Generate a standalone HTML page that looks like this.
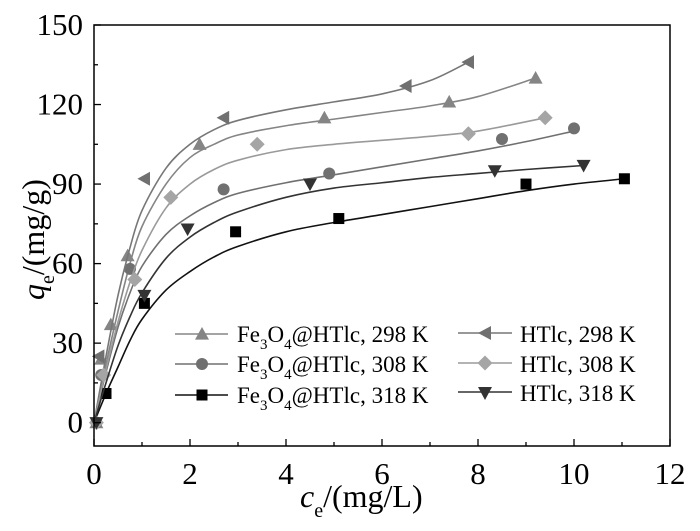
<!DOCTYPE html>
<html><head><meta charset="utf-8"><style>
html,body{margin:0;padding:0;background:#fff;}
svg{display:block;font-family:"Liberation Serif",serif;}
</style></head><body>
<svg id="chart" width="700" height="531" viewBox="0 0 700 531"></svg>
<script>
const xTicks=[0,2,4,6,8,10,12];
const yTicks=[0,30,60,90,120,150];
const seriesNames=["Fe3O4@HTlc, 298 K","Fe3O4@HTlc, 308 K","Fe3O4@HTlc, 318 K","HTlc, 298 K","HTlc, 308 K","HTlc, 318 K"];
const fe298X=[0.05,0.15,0.35,0.7,2.2,4.8,7.4,9.2];
const fe298Y=[0,24,37,63,105,115,121,130];
const fe308X=[0.05,0.15,0.75,2.7,4.9,8.5,10];
const fe308Y=[0,18,58,88,94,107,111];
const fe318X=[0.25,1.05,2.95,5.1,9,11.05];
const fe318Y=[11,45,72,77,90,92];
const ht298X=[0.1,1.05,2.7,6.5,7.8];
const ht298Y=[25,92,115,127,136];
const ht308X=[0.05,0.2,0.85,1.6,3.4,7.8,9.4];
const ht308Y=[0,18,54,85,105,109,115];
const ht318X=[0.05,1.05,1.95,4.5,8.35,10.2];
const ht318Y=[0,48,73,90,95,97];
// fitted curves
const fitFe298X=[0,0.25,0.5,0.75,1,1.5,2,2.5,3,4,5,6,7,8,9.2];
const fitFe298Y=[0,22,42,60,74,90,100,105,108.5,112,114.5,117,119.5,123,130];
const fitHt298X=[0,0.25,0.5,0.75,1,1.5,2,2.5,3,4,5,6,7,7.8];
const fitHt298Y=[0,25,48,66,80,96,105,110.5,114,118,121,124,129,136];
const fitHt308X=[0,0.25,0.5,0.75,1,1.5,2,2.5,3,4,5,6,7,8,9.4];
const fitHt308Y=[0,20,38,53,65,81,90,95.5,99,103,105,106.5,108,110,115];
const fitFe308X=[0,0.25,0.5,0.75,1,1.5,2,2.5,3,4,5,6,7,8,9,10];
const fitFe308Y=[0,19,36,49,59,71,78,83,86.5,90.5,93.5,96.5,99.5,102.5,106,110];
const fitHt318X=[0,0.25,0.5,0.75,1,1.5,2,2.5,3,4,5,6,7,8,9,10.2];
const fitHt318Y=[0,15,29,40,49,62,70,75.5,79.5,85,88.5,90.5,92.5,94,95.5,97];
const fitFe318X=[0,0.25,0.5,0.75,1,1.5,2,2.5,3,4,5,6,7,8,9,10,11.05];
const fitFe318Y=[0,11,21,31,39,50,57,62.5,66.5,72,75.5,78.5,81.5,84.5,87.5,90,92];

const L=94,R=670,T=25,B=446,XMIN=0,XMAX=12,YMIN=-8.8,YMAX=150;
const sx=v=>L+(v-XMIN)/(XMAX-XMIN)*(R-L);
const sy=v=>B-(v-YMIN)/(YMAX-YMIN)*(B-T);
const NS="http://www.w3.org/2000/svg";
const svg=document.getElementById('chart');
function mk(tag,attrs,parent){const e=document.createElementNS(NS,tag);for(const k in attrs)e.setAttribute(k,attrs[k]);(parent||svg).appendChild(e);return e;}

function smoothPath(xs,ys){
  const p=xs.map((x,i)=>[sx(x),sy(ys[i])]);
  let d="M"+p[0][0]+","+p[0][1];
  for(let i=0;i<p.length-1;i++){
    const p0=p[i-1]||p[i],p1=p[i],p2=p[i+1],p3=p[i+2]||p2;
    const c1=[p1[0]+(p2[0]-p0[0])/6,p1[1]+(p2[1]-p0[1])/6];
    const c2=[p2[0]-(p3[0]-p1[0])/6,p2[1]-(p3[1]-p1[1])/6];
    d+=` C${c1[0]},${c1[1]} ${c2[0]},${c2[1]} ${p2[0]},${p2[1]}`;
  }
  return d;
}
function marker(type,cx,cy,color,parent){
  const s=7;let e;
  if(type==="up")e=mk('polygon',{points:`${cx},${cy-s} ${cx-s},${cy+s*0.8} ${cx+s},${cy+s*0.8}`,fill:color},parent);
  else if(type==="down")e=mk('polygon',{points:`${cx},${cy+s} ${cx-s},${cy-s*0.8} ${cx+s},${cy-s*0.8}`,fill:color},parent);
  else if(type==="left")e=mk('polygon',{points:`${cx-s},${cy} ${cx+s*0.8},${cy-s} ${cx+s*0.8},${cy+s}`,fill:color},parent);
  else if(type==="circle")e=mk('circle',{cx:cx,cy:cy,r:6,fill:color},parent);
  else if(type==="square")e=mk('rect',{x:cx-5.5,y:cy-5.5,width:11,height:11,fill:color},parent);
  else e=mk('polygon',{points:`${cx},${cy-7.5} ${cx+7.5},${cy} ${cx},${cy+7.5} ${cx-7.5},${cy}`,fill:color},parent);
  return e;
}
const series=[
 {n:0,x:fe298X,y:fe298Y,fx:fitFe298X,fy:fitFe298Y,m:"up",c:"#858585",lc:"#858585"},
 {n:1,x:fe308X,y:fe308Y,fx:fitFe308X,fy:fitFe308Y,m:"circle",c:"#707070",lc:"#707070"},
 {n:2,x:fe318X,y:fe318Y,fx:fitFe318X,fy:fitFe318Y,m:"square",c:"#000",lc:"#111"},
 {n:3,x:ht298X,y:ht298Y,fx:fitHt298X,fy:fitHt298Y,m:"left",c:"#707070",lc:"#777"},
 {n:4,x:ht308X,y:ht308Y,fx:fitHt308X,fy:fitHt308Y,m:"diamond",c:"#a5a5a5",lc:"#9a9a9a"},
 {n:5,x:ht318X,y:ht318Y,fx:fitHt318X,fy:fitHt318Y,m:"down",c:"#333",lc:"#333"}
];
series.forEach(s=>{
  const g=mk('g',{});
  
  
  const p=mk('path',{d:smoothPath(s.fx,s.fy),fill:'none',stroke:s.lc,'stroke-width':1.6},g);
  
  
  s.x.forEach((x,i)=>{
    const e=marker(s.m,sx(x),sy(s.y[i]),s.c,g);
    
    
  });
});
const fr=mk('rect',{x:L,y:T,width:R-L,height:B-T,fill:'none',stroke:'#000','stroke-width':1.5});


for(let v=0;v<=12;v+=1){
  const x=sx(v),len=(v%2===0)?7:4;
  const t=mk('line',{x1:x,x2:x,y1:B,y2:B-len,stroke:'#000','stroke-width':1.3});
  
  
}
xTicks.forEach(v=>{
  const t=mk('text',{x:sx(v),y:B+38,'font-size':31,'text-anchor':'middle'});
  t.textContent=v;
  
  
});
for(let v=0;v<=150;v+=15){
  const y=sy(v),len=(v%30===0)?7:4;
  const t=mk('line',{x1:L,x2:L+len,y1:y,y2:y,stroke:'#000','stroke-width':1.3});
  
  
}
yTicks.forEach(v=>{
  const t=mk('text',{x:L-11,y:sy(v)+10,'font-size':31,'text-anchor':'end'});
  t.textContent=v;
  
  
});
</script>
<svg style="position:absolute;left:0;top:0" width="700" height="531">
 <text x="300" y="507" font-size="32" font-family="Liberation Serif,serif"><tspan font-style="italic">c</tspan><tspan font-size="20" dy="10">e</tspan><tspan dy="-10">/(mg/L)</tspan></text>
 <text transform="translate(44,300) rotate(-90)" font-size="32" font-family="Liberation Serif,serif"><tspan font-style="italic">q</tspan><tspan font-size="20" dy="10">e</tspan><tspan dy="-10">/(mg/g)</tspan></text>
 <g font-family="Liberation Serif,serif" font-size="23">
  <g>
   <line x1="175" x2="228" y1="334" y2="334" stroke="#858585" stroke-width="1.6"/>
   <polygon points="202,327 195,339.6 209,339.6" fill="#858585"/>
   <text x="237" y="342">Fe<tspan font-size="15" dy="7">3</tspan><tspan dy="-7">O</tspan><tspan font-size="15" dy="7">4</tspan><tspan dy="-7">@HTlc, 298 K</tspan></text>
  </g>
  <g>
   <line x1="175" x2="228" y1="364" y2="364" stroke="#707070" stroke-width="1.6"/>
   <circle cx="202" cy="364" r="6" fill="#707070"/>
   <text x="237" y="372">Fe<tspan font-size="15" dy="7">3</tspan><tspan dy="-7">O</tspan><tspan font-size="15" dy="7">4</tspan><tspan dy="-7">@HTlc, 308 K</tspan></text>
  </g>
  <g>
   <line x1="175" x2="228" y1="395" y2="395" stroke="#111" stroke-width="1.6"/>
   <rect x="196.5" y="389.5" width="11" height="11" fill="#000"/>
   <text x="237" y="403">Fe<tspan font-size="15" dy="7">3</tspan><tspan dy="-7">O</tspan><tspan font-size="15" dy="7">4</tspan><tspan dy="-7">@HTlc, 318 K</tspan></text>
  </g>
  <g>
   <line x1="458" x2="512" y1="333" y2="333" stroke="#777" stroke-width="1.6"/>
   <polygon points="478,333 491,326 491,340" fill="#707070"/>
   <text x="520" y="342">HTlc, 298 K</text>
  </g>
  <g>
   <line x1="458" x2="512" y1="363" y2="363" stroke="#9a9a9a" stroke-width="1.6"/>
   <polygon points="485,355.5 492.5,363 485,370.5 477.5,363" fill="#a5a5a5"/>
   <text x="520" y="372">HTlc, 308 K</text>
  </g>
  <g>
   <line x1="458" x2="512" y1="392" y2="392" stroke="#333" stroke-width="1.6"/>
   <polygon points="485,400 478,387 492,387" fill="#333"/>
   <text x="520" y="401">HTlc, 318 K</text>
  </g>
 </g>
</svg>
</body></html>
